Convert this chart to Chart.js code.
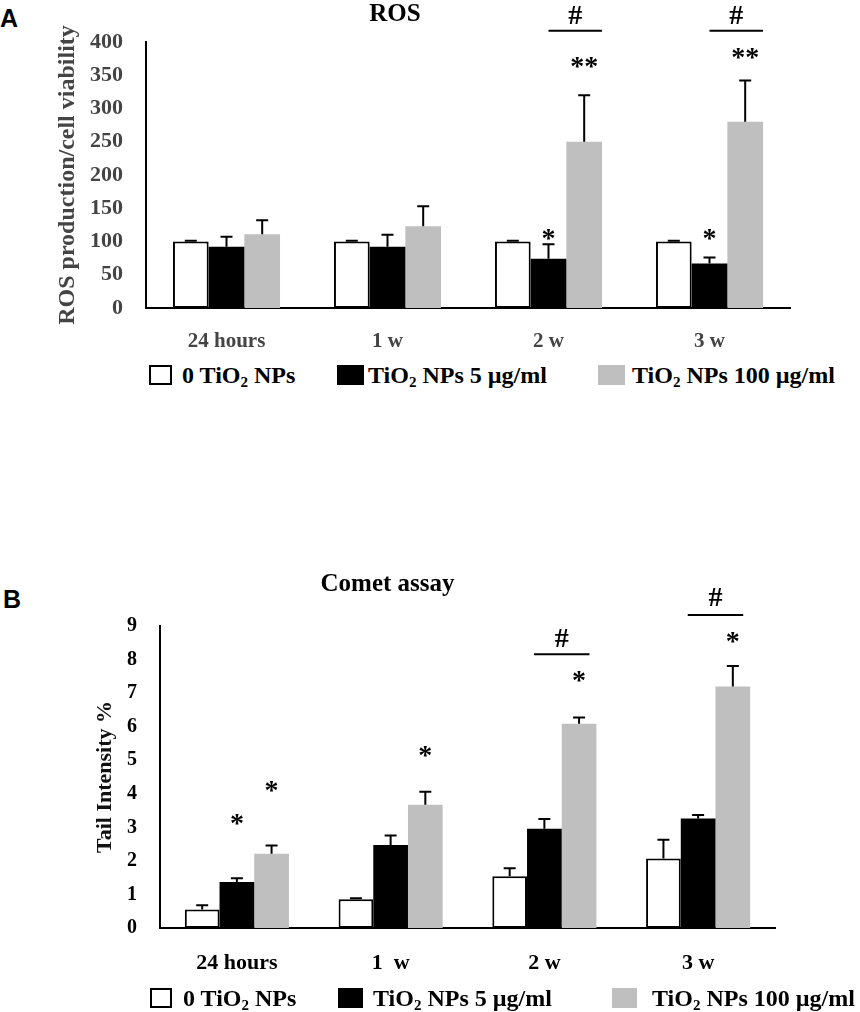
<!DOCTYPE html>
<html>
<head>
<meta charset="utf-8">
<script src="https://cdn.jsdelivr.net/npm/chart.js@4.4.1/dist/chart.umd.min.js"></script>
<style>
  body { margin: 0; width: 860px; height: 1012px; background: #fff; position: relative; overflow: hidden; font-family: 'Liberation Serif', 'Times New Roman', serif; }
  .panel { position: absolute; font-family: 'Liberation Sans', Arial, sans-serif; font-weight: bold; font-size: 25px; line-height: 1; }
  .wrap { position: absolute; left: 0; }
  #wrapA { top: 0; width: 804px; height: 360px; }
  #wrapB { top: 560px; width: 860px; height: 440px; }
  .sw { position: absolute; box-sizing: border-box; height: 20px; }
  .lt { position: absolute; font-family: 'Liberation Serif', 'Times New Roman', serif; font-weight: bold; font-size: 24px; line-height: 24px; color: #000; white-space: nowrap; }
  .lt sub { font-size: 15px; vertical-align: -4px; line-height: 0; }
</style>
</head>
<body>
<div class="panel" style="left:0;top:6px">A</div>
<div class="panel" style="left:3px;top:587px">B</div>

<div class="wrap" id="wrapA"><canvas id="chart-ros"></canvas></div>
<div class="wrap" id="wrapB"><canvas id="chart-comet"></canvas></div>

<!-- legends -->
<div class="sw" style="left:149px;top:365px;width:23px;background:#fff;border:2px solid #000"></div>
<div class="lt" style="left:182px;top:363px">0 TiO<sub>2</sub> NPs</div>
<div class="sw" style="left:337px;top:365px;width:27px;background:#000"></div>
<div class="lt" style="left:368px;top:363px">TiO<sub>2</sub> NPs 5 µg/ml</div>
<div class="sw" style="left:598px;top:365px;width:27px;background:#bfbfbf"></div>
<div class="lt" style="left:632px;top:363px">TiO<sub>2</sub> NPs 100 µg/ml</div>

<div class="sw" style="left:150px;top:988px;width:22px;background:#fff;border:2px solid #000"></div>
<div class="lt" style="left:183px;top:986px">0 TiO<sub>2</sub> NPs</div>
<div class="sw" style="left:338px;top:988px;width:25px;background:#000"></div>
<div class="lt" style="left:373px;top:986px">TiO<sub>2</sub> NPs 5 µg/ml</div>
<div class="sw" style="left:612px;top:988px;width:25px;background:#bfbfbf"></div>
<div class="lt" style="left:652px;top:986px">TiO<sub>2</sub> NPs 100 µg/ml</div>

<script>
/* ── Panel A: ROS ───────────────────────────────────────────── */
const categoriesA  = ['24 hours', '1 w', '2 w', '3 w'];
const controlA     = [100, 100, 100, 100];
const controlErrA  = [1, 1, 1, 1];
const low5A        = [92, 92, 74, 67];
const low5ErrA     = [15, 18, 22, 9];
const high100A     = [111, 123, 250, 280];
const high100ErrA  = [21, 30, 70, 62];
const starsLowA    = ['', '', '*', '*'];
const starsLowYA   = [null, null, 110, 110];
const starsHighA   = ['', '', '**', '**'];
const starsHighYA  = [null, null, 369, 382];
const hashLineYA   = [null, null, 417, 417];
const hashTextYA   = [null, null, 441, 441];
const yMaxA = 400, yStepA = 50;

/* ── Panel B: Comet assay ───────────────────────────────────── */
const categoriesB  = ['24 hours', '1  w', '2 w', '3 w'];
const controlB     = [0.55, 0.86, 1.54, 2.07];
const controlErrB  = [0.13, 0.03, 0.24, 0.56];
const low5B        = [1.37, 2.47, 2.96, 3.26];
const low5ErrB     = [0.11, 0.29, 0.29, 0.11];
const high100B     = [2.21, 3.67, 6.09, 7.2];
const high100ErrB  = [0.25, 0.39, 0.18, 0.61];
const starsLowB    = ['*', '', '', ''];
const starsLowYB   = [3.24, null, null, null];
const starsHighB   = ['*', '*', '*', '*'];
const starsHighYB  = [4.22, 5.27, 7.5, 8.66];
const hashLineYB   = [null, null, 8.16, 9.33];
const hashTextYB   = [null, null, 8.64, 9.86];
const yMaxB = 9, yStepB = 1;

const SERIF = "'Liberation Serif', 'Times New Roman', serif";
const GREY_BAR = '#bfbfbf';

// error bars: stem from bar top + cap
const errorBars = {
  id: 'errorBars',
  afterDatasetsDraw(chart, args, opts) {
    const { ctx } = chart;
    const ys = chart.scales.y;
    ctx.save();
    ctx.strokeStyle = '#000';
    ctx.lineWidth = 2;
    chart.data.datasets.forEach((ds, di) => {
      chart.getDatasetMeta(di).data.forEach((bar, i) => {
        const top = ys.getPixelForValue(ds.data[i] + ds.errors[i]);
        ctx.beginPath();
        ctx.moveTo(bar.x, bar.y);
        ctx.lineTo(bar.x, top);
        ctx.moveTo(bar.x - opts.cap / 2, top);
        ctx.lineTo(bar.x + opts.cap / 2, top);
        ctx.stroke();
      });
    });
    ctx.restore();
  }
};

// asterisks over bars, "#" bracket between 5 and 100 µg/ml
const significance = {
  id: 'significance',
  afterDraw(chart, args, opts) {
    const { ctx } = chart;
    const ys = chart.scales.y;
    const centered = (txt, x, y, font) => {
      ctx.font = font;
      const m = ctx.measureText(txt);
      ctx.fillText(txt, x, y + (m.actualBoundingBoxAscent - m.actualBoundingBoxDescent) / 2);
    };
    ctx.save();
    ctx.fillStyle = '#000';
    ctx.strokeStyle = '#000';
    ctx.textAlign = 'center';
    ctx.textBaseline = 'alphabetic';
    chart.data.datasets.forEach((ds, di) => {
      if (!ds.stars) return;
      chart.getDatasetMeta(di).data.forEach((bar, i) => {
        if (!ds.stars[i]) return;
        centered(ds.stars[i], bar.x, ys.getPixelForValue(ds.starY[i]), opts.starFont);
      });
    });
    const lowBars = chart.getDatasetMeta(1).data;
    const highBars = chart.getDatasetMeta(2).data;
    opts.lineY.forEach((v, i) => {
      if (v == null) return;
      const x0 = lowBars[i].x + opts.from * lowBars[i].width;
      const x1 = highBars[i].x + opts.to * highBars[i].width;
      const y = ys.getPixelForValue(v);
      ctx.lineWidth = 2;
      ctx.beginPath();
      ctx.moveTo(x0, y);
      ctx.lineTo(x1, y);
      ctx.stroke();
      centered('#', (x0 + x1) / 2, ys.getPixelForValue(opts.textY[i]), opts.hashFont);
    });
    ctx.restore();
  }
};

function makeDatasets(ctrl, ctrlErr, low, lowErr, high, highErr, sl, slY, sh, shY) {
  return [
    { label: '0 TiO₂ NPs', data: ctrl, errors: ctrlErr, backgroundColor: '#fff', borderColor: '#000', borderWidth: 2, borderSkipped: false },
    { label: 'TiO₂ NPs 5 µg/ml', data: low, errors: lowErr, stars: sl, starY: slY, backgroundColor: '#000' },
    { label: 'TiO₂ NPs 100 µg/ml', data: high, errors: highErr, stars: sh, starY: shY, backgroundColor: GREY_BAR }
  ];
}

Chart.defaults.font.family = SERIF;
Chart.defaults.font.weight = 'bold';

new Chart(document.getElementById('chart-ros'), {
  type: 'bar',
  data: {
    labels: categoriesA,
    datasets: makeDatasets(controlA, controlErrA, low5A, low5ErrA, high100A, high100ErrA,
                           starsLowA, starsLowYA, starsHighA, starsHighYA)
  },
  options: {
    responsive: true, maintainAspectRatio: false, animation: false,
    datasets: { bar: { categoryPercentage: 0.665, barPercentage: 1 } },
    layout: { padding: { left: 0, right: 14, top: 0, bottom: 7 } },
    plugins: {
      legend: { display: false },
      tooltip: { enabled: false },
      title: { display: true, text: 'ROS', color: '#000', font: { size: 25, weight: 'bold' }, padding: { top: 0, bottom: 12 } },
      errorBars: { cap: 12 },
      significance: { lineY: hashLineYA, textY: hashTextYA, from: 0, to: 0.5,
                      starFont: `bold 28px ${SERIF}`, hashFont: `bold 28px ${SERIF}` }
    },
    scales: {
      x: {
        grid: { display: false, drawTicks: false },
        border: { color: '#000', width: 2 },
        ticks: { padding: 21, color: '#444', font: { size: 21 }, maxRotation: 0 },
        afterFit: s => { s.height = 45; }
      },
      y: {
        min: 0, max: yMaxA,
        grid: { display: false, drawTicks: false },
        border: { color: '#000', width: 2 },
        ticks: { stepSize: yStepA, padding: 23, color: '#444', font: { size: 22 } },
        title: { display: true, text: 'ROS production/cell viability', color: '#444', font: { size: 24 }, padding: { top: 53, bottom: 0 } },
        afterFit: s => { s.width = 146; }
      }
    }
  },
  plugins: [errorBars, significance]
});

new Chart(document.getElementById('chart-comet'), {
  type: 'bar',
  data: {
    labels: categoriesB,
    datasets: makeDatasets(controlB, controlErrB, low5B, low5ErrB, high100B, high100ErrB,
                           starsLowB, starsLowYB, starsHighB, starsHighYB)
  },
  options: {
    responsive: true, maintainAspectRatio: false, animation: false,
    datasets: { bar: { categoryPercentage: 0.677, barPercentage: 1 } },
    layout: { padding: { left: 0, right: 85, top: 0, bottom: 22 } },
    plugins: {
      legend: { display: false },
      tooltip: { enabled: false },
      title: { display: true, text: 'Comet assay', color: '#000', font: { size: 25, weight: 'bold' }, padding: { top: 10, bottom: 26 } },
      errorBars: { cap: 12 },
      significance: { lineY: hashLineYB, textY: hashTextYB, from: -0.3, to: 0.3,
                      starFont: `bold 28px ${SERIF}`, hashFont: `bold 28px ${SERIF}` }
    },
    scales: {
      x: {
        grid: { display: false, drawTicks: false },
        border: { color: '#000', width: 2 },
        ticks: { padding: 22, color: '#000', font: { size: 22 }, maxRotation: 0 },
        afterFit: s => { s.height = 50; }
      },
      y: {
        min: 0, max: yMaxB,
        grid: { display: false, drawTicks: false },
        border: { color: '#000', width: 2 },
        ticks: { stepSize: yStepB, padding: 23, color: '#000', font: { size: 20 } },
        title: { display: true, text: 'Tail Intensity %', color: '#111', font: { size: 22 }, padding: { top: 92, bottom: 0 } },
        afterFit: s => { s.width = 160; }
      }
    }
  },
  plugins: [errorBars, significance]
});
</script>
</body>
</html>
